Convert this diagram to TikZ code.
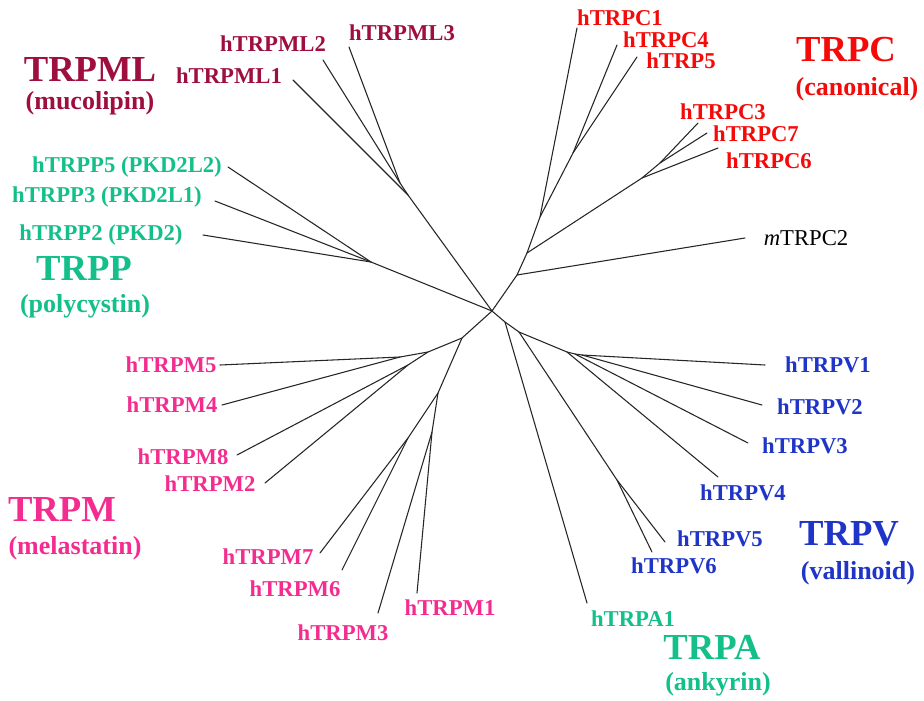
\documentclass[tikz,border=0pt]{standalone}
\usepackage{fontspec}
\setmainfont{Liberation Serif}

\definecolor{mlred}{HTML}{9E0F3F}
\definecolor{ppgreen}{HTML}{14C08A}
\definecolor{cred}{HTML}{F50A0A}
\definecolor{mpink}{HTML}{F52C90}
\definecolor{vblue}{HTML}{1F35C8}

\tikzset{
  leaf/.style={font=\bfseries\fontsize{17}{19}\selectfont, inner sep=0pt},
  family/.style={font=\bfseries\fontsize{27.5}{30}\selectfont, inner sep=0pt},
  subfam/.style={font=\bfseries\fontsize{19.5}{22}\selectfont, inner sep=0pt},
  branch/.style={line width=0.8pt, black!85, line cap=round},
}

\begin{document}
\begin{tikzpicture}[x=0.75pt, y=-0.75pt]
    % Canvas
    \fill[white] (0,0) rectangle (924,700);
    \useasboundingbox (0,0) rectangle (924,700);

    % Root of the tree
    \coordinate (root) at (492,311);

    % TRPML branch points and tips
    \coordinate (jml) at (408,195);
    \coordinate (jml23) at (400,183);
    \coordinate (ml1t) at (293,80);
    \coordinate (ml2t) at (323,60);
    \coordinate (ml3t) at (349,47);

    % TRPP branch points and tips
    \coordinate (jpp) at (371,262);
    \coordinate (pp5t) at (228,167);
    \coordinate (pp3t) at (215,201);
    \coordinate (pp2t) at (203,235);

    % TRPC branch points and tips
    \coordinate (jc0) at (517,275);
    \coordinate (jc1) at (527,253);
    \coordinate (jc2) at (540,217);
    \coordinate (jc45) at (573,153);
    \coordinate (jc367) at (642,178);
    \coordinate (jc37) at (660,163);
    \coordinate (c1t) at (577,28);
    \coordinate (c4t) at (617,45);
    \coordinate (c5t) at (637,57);
    \coordinate (c3t) at (698,123);
    \coordinate (c7t) at (707,133);
    \coordinate (c6t) at (718,148);
    \coordinate (c2t) at (745,238);

    % TRPV / TRPA branch points and tips
    \coordinate (ja) at (505,322);
    \coordinate (jv) at (519,332);
    \coordinate (jv56) at (617,480);
    \coordinate (jv14) at (567,352);
    \coordinate (jv123) at (575,354);
    \coordinate (jv12) at (582,355);
    \coordinate (a1t) at (587,603);
    \coordinate (v1t) at (765,365);
    \coordinate (v2t) at (762,405);
    \coordinate (v3t) at (748,443);
    \coordinate (v4t) at (718,477);
    \coordinate (v5t) at (665,542);
    \coordinate (v6t) at (652,552);

    % TRPM branch points and tips
    \coordinate (jm) at (462,338);
    \coordinate (jm1) at (428,352);
    \coordinate (jm54) at (400,357);
    \coordinate (jm82) at (408,365);
    \coordinate (jm2) at (438,393);
    \coordinate (jm76) at (408,438);
    \coordinate (jm31) at (432,432);
    \coordinate (m5t) at (220,365);
    \coordinate (m4t) at (222,405);
    \coordinate (m8t) at (237,455);
    \coordinate (m2t) at (265,483);
    \coordinate (m7t) at (320,553);
    \coordinate (m6t) at (342,570);
    \coordinate (m3t) at (378,613);
    \coordinate (m1t) at (417,593);

    % Draw branches
    \draw[branch] (root) -- (jml) -- (ml1t);
    \draw[branch] (jml) -- (jml23) -- (ml2t);
    \draw[branch] (jml23) -- (ml3t);
    \draw[branch] (root) -- (jpp) -- (pp2t);
    \draw[branch] (jpp) -- (pp3t);
    \draw[branch] (jpp) -- (pp5t);
    \draw[branch] (root) -- (jc0) -- (c2t);
    \draw[branch] (jc0) -- (jc1) -- (jc2) -- (c1t);
    \draw[branch] (jc2) -- (jc45) -- (c4t);
    \draw[branch] (jc45) -- (c5t);
    \draw[branch] (jc1) -- (jc367) -- (c6t);
    \draw[branch] (jc367) -- (jc37) -- (c3t);
    \draw[branch] (jc37) -- (c7t);
    \draw[branch] (root) -- (ja) -- (a1t);
    \draw[branch] (ja) -- (jv) -- (jv56) -- (v5t);
    \draw[branch] (jv56) -- (v6t);
    \draw[branch] (jv) -- (jv14) -- (v4t);
    \draw[branch] (jv14) -- (jv123) -- (v3t);
    \draw[branch] (jv123) -- (jv12) -- (v1t);
    \draw[branch] (jv12) -- (v2t);
    \draw[branch] (root) -- (jm) -- (jm1) -- (jm54) -- (m5t);
    \draw[branch] (jm54) -- (m4t);
    \draw[branch] (jm1) -- (jm82) -- (m8t);
    \draw[branch] (jm82) -- (m2t);
    \draw[branch] (jm) -- (jm2) -- (jm76) -- (m7t);
    \draw[branch] (jm76) -- (m6t);
    \draw[branch] (jm2) -- (jm31) -- (m3t);
    \draw[branch] (jm31) -- (m1t);

    % TRPML labels
    \node[family, mlred] (trpml) at (90,69) {TRPML};
    \node[subfam, mlred] (mucolipin) at (90,103) {(mucolipin)};
    \node[leaf, mlred] (ml1) at (229,76) {hTRPML1};
    \node[leaf, mlred] (ml2) at (273,44) {hTRPML2};
    \node[leaf, mlred] (ml3) at (402,33) {hTRPML3};

    % TRPP labels
    \node[leaf, ppgreen] (pp5) at (127,167) {hTRPP5 (PKD2L2)};
    \node[leaf, ppgreen] (pp3) at (107,197) {hTRPP3 (PKD2L1)};
    \node[leaf, ppgreen] (pp2) at (101,235) {hTRPP2 (PKD2)};
    \node[family, ppgreen] (trpp) at (84,268) {TRPP};
    \node[subfam, ppgreen] (polycystin) at (85,306) {(polycystin)};

    % TRPC labels
    \node[leaf, cred] (c1) at (620,18) {hTRPC1};
    \node[leaf, cred] (c4) at (666,40) {hTRPC4};
    \node[leaf, cred] (c5) at (681,61) {hTRP5};
    \node[leaf, cred] (c3) at (723,112) {hTRPC3};
    \node[leaf, cred] (c7) at (756,134) {hTRPC7};
    \node[leaf, cred] (c6) at (769,161) {hTRPC6};
    \node[family, cred] (trpc) at (846,50) {TRPC};
    \node[subfam, cred] (canonical) at (857,89) {(canonical)};
    \node[font=\fontsize{17}{19}\selectfont, inner sep=0pt] (c2) at (806,238) {\textit{m}TRPC2};

    % TRPM labels
    \node[leaf, mpink] (m5) at (171,365) {hTRPM5};
    \node[leaf, mpink] (m4) at (172,405) {hTRPM4};
    \node[leaf, mpink] (m8) at (183,457) {hTRPM8};
    \node[leaf, mpink] (m2) at (210,484) {hTRPM2};
    \node[leaf, mpink] (m7) at (268,557) {hTRPM7};
    \node[leaf, mpink] (m6) at (295,589) {hTRPM6};
    \node[leaf, mpink] (m3) at (343,633) {hTRPM3};
    \node[leaf, mpink] (m1) at (450,608) {hTRPM1};
    \node[family, mpink] (trpm) at (62,509) {TRPM};
    \node[subfam, mpink] (melastatin) at (75,548) {(melastatin)};

    % TRPV labels
    \node[leaf, vblue] (v1) at (828,365) {hTRPV1};
    \node[leaf, vblue] (v2) at (820,407) {hTRPV2};
    \node[leaf, vblue] (v3) at (805,446) {hTRPV3};
    \node[leaf, vblue] (v4) at (743,493) {hTRPV4};
    \node[leaf, vblue] (v5) at (720,539) {hTRPV5};
    \node[leaf, vblue] (v6) at (674,566) {hTRPV6};
    \node[family, vblue] (trpv) at (849,534) {TRPV};
    \node[subfam, vblue] (vallinoid) at (858,573) {(vallinoid)};

    % TRPA labels
    \node[leaf, ppgreen] (a1) at (633,619) {hTRPA1};
    \node[family, ppgreen] (trpa) at (712,647) {TRPA};
    \node[subfam, ppgreen] (ankyrin) at (718,684) {(ankyrin)};
\end{tikzpicture}
\end{document}
